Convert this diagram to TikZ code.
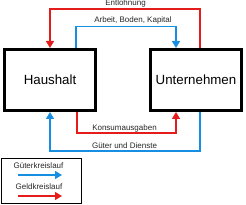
\documentclass[tikz,border=0pt]{standalone}
\usepackage{fontspec}
\setmainfont{Liberation Sans}
\usetikzlibrary{arrows.meta}
\definecolor{geldred}{RGB}{228,28,28}
\definecolor{gutblue}{RGB}{22,142,226}
\begin{document}
\begin{tikzpicture}[x=1pt,y=1pt,
  box/.style={draw=black,line width=2.6pt,fill=white,minimum width=91.4pt,minimum height=61.4pt,inner sep=0pt,font=\fontsize{13.3}{15}\selectfont},
  flow/.style={line width=1.4pt,-{Triangle[width=8pt,length=7pt]}},
  geld/.style={flow,draw=geldred,color=geldred},
  gut/.style={flow,draw=gutblue,color=gutblue},
  lbl/.style={font=\fontsize{8}{9}\selectfont,text=black!85,inner sep=0pt}]
\useasboundingbox (0,0) rectangle (246,205);
\node[box] (haus) at (50,125) {Haushalt};
\node[box] (unt) at (196,125) {Unternehmen};
% Entlohnung
\draw[geld] ([xshift=4pt]unt.north) -- ++(0,39) coordinate (e1) -| (haus.north);
\node[lbl,anchor=base] (entl) at (125.5,199.5) {Entlohnung};
% Arbeit, Boden, Kapital
\draw[gut] ([xshift=26pt]haus.north) -- ++(0,21.5) coordinate (a1) -| ([xshift=-20pt]unt.north);
\node[lbl,anchor=base] (arb) at (133,182.5) {Arbeit, Boden, Kapital};
% Konsumausgaben
\draw[geld] ([xshift=27pt]haus.south) -- ++(0,-21) coordinate (k1) -| ([xshift=-20pt]unt.south);
\node[lbl,anchor=base] (kons) at (124.5,74.5) {Konsumausgaben};
% Gueter und Dienste
\draw[gut] ([xshift=4pt]unt.south) -- ++(0,-39) coordinate (g1) -| (haus.south);
\node[lbl,anchor=base] (gud) at (124.5,56.5) {Güter und Dienste};
% Legend
\node[draw=black,line width=1.5pt,minimum width=80pt,minimum height=45pt,inner sep=0pt] (leg) at (41.5,24) {};
\node[lbl,anchor=base] (lg1) at (38.5,36.5) {Güterkreislauf};
\coordinate (gs) at (18,30);
\coordinate (ge) at (62,30);
\draw[gut] (gs) -- (ge);
\node[lbl,anchor=base] (lg2) at (39,15.5) {Geldkreislauf};
\coordinate (rs) at (18,9);
\coordinate (re) at (62,9);
\draw[geld] (rs) -- (re);
\end{tikzpicture}
\end{document}
